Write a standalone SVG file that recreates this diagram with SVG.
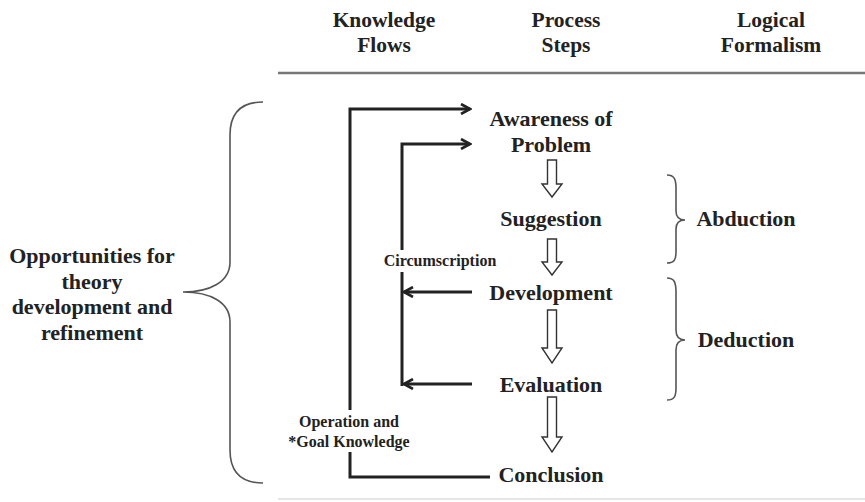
<svg xmlns="http://www.w3.org/2000/svg" width="865" height="502" viewBox="0 0 865 502">
<defs>
<style>
text{font-family:"Liberation Serif","Times New Roman",serif;font-weight:bold;fill:#222;text-anchor:middle}
.h{font-size:21.5px}
.n{font-size:22px}
.s{font-size:16px}
.line{stroke:#222;stroke-width:3;fill:none}
.brace{stroke:#555;stroke-width:1.6;fill:none}
.hollow{fill:#fff;stroke:#333;stroke-width:1.4}
</style>
<marker id="ah" viewBox="0 0 12 12" refX="10" refY="6" markerWidth="12" markerHeight="12" markerUnits="userSpaceOnUse" orient="auto">
<path d="M1,1 L10,6 L1,11" fill="none" stroke="#222" stroke-width="2.6"/>
</marker>
</defs>
<rect width="865" height="502" fill="#fff"/>
<g id="header">
<text class="h" x="384" y="27">Knowledge</text>
<text class="h" x="384" y="52">Flows</text>
<text class="h" x="566" y="27">Process</text>
<text class="h" x="566" y="52">Steps</text>
<text class="h" x="771" y="27">Logical</text>
<text class="h" x="771" y="52">Formalism</text>
<line x1="278" y1="73" x2="865" y2="73" stroke="#777" stroke-width="2.5"/>
<line x1="278" y1="499" x2="865" y2="499" stroke="#ddd" stroke-width="1.5"/>
</g>
<g id="awareness"><text class="n" x="551" y="126">Awareness of</text><text class="n" x="551" y="152">Problem</text></g>
<g id="suggestion"><text class="n" x="551" y="226">Suggestion</text></g>
<g id="development"><text class="n" x="551" y="300">Development</text></g>
<g id="evaluation"><text class="n" x="551" y="392">Evaluation</text></g>
<g id="conclusion"><text class="n" x="551" y="482">Conclusion</text></g>
<g id="opportunities">
<text class="n" x="92" y="263">Opportunities for</text>
<text class="n" x="92" y="289">theory</text>
<text class="n" x="92" y="314">development and</text>
<text class="n" x="92" y="340">refinement</text>
<path class="brace" d="M263,102 C240,102 230,114 230,135 L230,262 C230,282 210,292 183,292 C210,292 230,302 230,322 L230,450 C230,471 240,483 263,483"/>
</g>
<g id="abduction">
<text class="n" x="746" y="226">Abduction</text>
<path class="brace" d="M667,175 C674,175 676,179 676,188 L676,211 C676,217 679,220 685,220 C679,220 676,223 676,229 L676,252 C676,260 674,263 667,263"/>
</g>
<g id="deduction">
<text class="n" x="746" y="347">Deduction</text>
<path class="brace" d="M667,278 C674,278 676,282 676,292 L676,330 C676,336 679,340 685,340 C679,340 676,344 676,350 L676,388 C676,397 674,400 667,400"/>
</g>
<g id="connectors">
<path class="line" d="M350,410 L350,109 L470,109" marker-end="url(#ah)"/>
<path class="line" d="M350,452 L350,477 L490,477"/>
<path class="line" d="M402,250 L402,144 L470,144" marker-end="url(#ah)"/>
<path class="line" d="M402,272 L402,386"/>
<line class="line" x1="472" y1="292" x2="404" y2="292" marker-end="url(#ah)"/>
<line class="line" x1="472" y1="384" x2="404" y2="384" marker-end="url(#ah)"/>
<path class="hollow" d="M547.5,160 L556.5,160 L556.5,184 L562,184 L552,197 L542,184 L547.5,184 Z"/>
<path class="hollow" d="M547.5,239 L556.5,239 L556.5,262 L562,262 L552,275 L542,262 L547.5,262 Z"/>
<path class="hollow" d="M547.5,310 L556.5,310 L556.5,348 L562,348 L552,363 L542,348 L547.5,348 Z"/>
<path class="hollow" d="M547.5,397 L556.5,397 L556.5,437 L562,437 L552,452 L542,437 L547.5,437 Z"/>
</g>
<g id="labels">
<text class="s" x="440" y="266">Circumscription</text>
<text class="s" x="349" y="427">Operation and</text>
<text class="s" x="349" y="447">*Goal Knowledge</text>
</g>
</svg>
